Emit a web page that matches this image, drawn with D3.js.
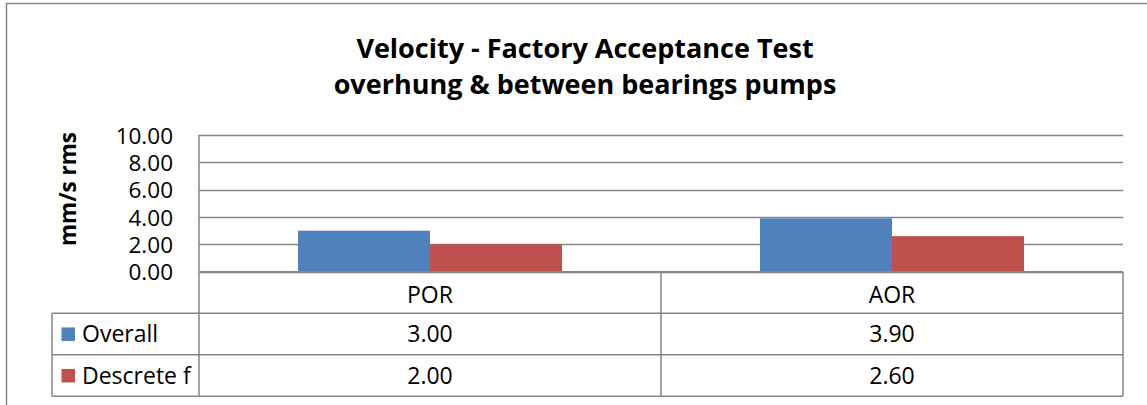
<!DOCTYPE html>
<html>
<head>
<meta charset="utf-8">
<script src="https://cdn.jsdelivr.net/npm/d3@7"></script>
<style>
    body { margin: 0; background: #fff; }
    svg { display: block; font-family: 'Open Sans', sans-serif; }
</style>
</head>
<body>
<div id="chart-container"></div>
<script>
// Chart data
const categories = ['POR', 'AOR'];
const seriesNames = ['Overall', 'Descrete f'];
const overallValues = [3.00, 3.90];
const descreteValues = [2.00, 2.60];
const yTicks = [0, 2, 4, 6, 8, 10];
const titleLines = ['Velocity - Factory Acceptance Test', 'overhung & between bearings pumps'];
const yLabel = 'mm/s rms';

const seriesValues = [overallValues, descreteValues];
const colors = ['#4f81bd', '#c0504d'];
const GRID = '#868686';

const WIDTH = 1147, HEIGHT = 405;
const plot = { left: 199, right: 1123, top: 135, bottom: 271.7 };
const table = { left: 52, rowH: 41.5 };

const svg = d3.select('#chart-container').append('svg')
    .attr('width', WIDTH)
    .attr('height', HEIGHT);

// outer chart border (runs off the right and bottom of the picture)
svg.append('rect')
    .attr('x', 6.5).attr('y', 3.5)
    .attr('width', 1170).attr('height', 430)
    .attr('fill', 'none')
    .attr('stroke', GRID)
    .attr('stroke-width', 1.5);

// Title
svg.append('text')
    .attr('font-weight', 'bold')
    .attr('font-size', 27)
    .attr('text-anchor', 'middle')
    .selectAll('tspan')
    .data(titleLines)
    .enter()
    .append('tspan')
        .attr('x', 585)
        .attr('y', (d, i) => 58 + i * 35.5)
        .text(d => d);

// Scales
const y = d3.scaleLinear()
    .domain([0, 10])
    .range([plot.bottom, plot.top]);

const x0 = d3.scaleBand()
    .domain(categories)
    .range([plot.left, plot.right]);

// gap width 150% -> outer padding of 0.75 step on each side
const x1 = d3.scaleBand()
    .domain(seriesNames)
    .range([0, x0.bandwidth()])
    .paddingInner(0)
    .paddingOuter(0.75);

// Gridlines
svg.append('g')
    .selectAll('line')
    .data(yTicks)
    .enter()
    .append('line')
        .attr('x1', plot.left)
        .attr('x2', plot.right)
        .attr('y1', d => Math.round(y(d)) + 0.5)
        .attr('y2', d => Math.round(y(d)) + 0.5)
        .attr('stroke', GRID)
        .attr('stroke-width', 1.3);

// Y axis labels
const yAxis = d3.axisLeft(y)
    .tickValues(yTicks)
    .tickFormat(d3.format('.2f'))
    .tickSize(0)
    .tickPadding(26);
const yAxisG = svg.append('g')
    .attr('transform', `translate(${plot.left},0)`)
    .call(yAxis);
yAxisG.select('.domain').remove();
yAxisG.selectAll('text')
    .attr('font-family', "'Open Sans', sans-serif")
    .attr('font-size', 22.5)
    .attr('dy', '0.36em')
    .attr('fill', '#000');

svg.append('text')
    .attr('transform', `translate(76, 189) rotate(-90)`)
    .attr('text-anchor', 'middle')
    .attr('font-weight', 'bold')
    .attr('font-size', 22.5)
    .text(yLabel);

// Bars
const groups = svg.append('g')
    .selectAll('g')
    .data(seriesNames)
    .enter()
    .append('g')
        .attr('fill', (d, i) => colors[i]);

groups.selectAll('rect')
    .data((name, si) => categories.map((c, ci) => ({ cat: c, name, value: seriesValues[si][ci] })))
    .enter()
    .append('rect')
        .attr('x', d => x0(d.cat) + x1(d.name))
        .attr('width', x1.bandwidth())
        .attr('y', d => y(d.value))
        .attr('height', d => y(0) - y(d.value));

// Data table below the plot
const rowTop = i => plot.bottom + i * table.rowH;
const tableBottom = rowTop(3);

const tableG = svg.append('g')
    .attr('stroke', GRID)
    .attr('stroke-width', 1.5)
    .attr('fill', 'none');

// horizontal lines
tableG.selectAll('line.h')
    .data([0, 1, 2, 3])
    .enter()
    .append('line')
        .attr('class', 'h')
        .attr('x1', i => i === 0 ? plot.left : table.left)
        .attr('x2', plot.right)
        .attr('y1', i => rowTop(i))
        .attr('y2', i => rowTop(i));

// vertical lines
const vLines = [
    { x: table.left, y1: rowTop(1) },
    { x: plot.left, y1: plot.top },
    { x: x0('AOR'), y1: rowTop(0) },
    { x: plot.right, y1: rowTop(0) }
];
tableG.selectAll('line.v')
    .data(vLines)
    .enter()
    .append('line')
        .attr('class', 'v')
        .attr('x1', d => d.x)
        .attr('x2', d => d.x)
        .attr('y1', d => d.y1)
        .attr('y2', tableBottom);

const TABLE_FONT = 23;

// category names
svg.append('g')
    .selectAll('text')
    .data(categories)
    .enter()
    .append('text')
        .attr('x', d => x0(d) + x0.bandwidth() / 2)
        .attr('y', rowTop(0) + table.rowH / 2 + 2)
        .attr('dy', '0.36em')
        .attr('text-anchor', 'middle')
        .attr('font-size', TABLE_FONT)
        .text(d => d);

// legend keys + values
seriesNames.forEach((name, si) => {
    const mid = rowTop(si + 1) + table.rowH / 2;
    svg.append('rect')
        .attr('x', 61.5)
        .attr('y', mid - 6.5)
        .attr('width', 13.5)
        .attr('height', 13.5)
        .attr('fill', colors[si]);
    svg.append('text')
        .attr('x', 82)
        .attr('y', mid)
        .attr('dy', '0.36em')
        .attr('font-size', TABLE_FONT)
        .text(name);
    svg.append('g')
        .selectAll('text')
        .data(categories)
        .enter()
        .append('text')
            .attr('x', d => x0(d) + x0.bandwidth() / 2)
            .attr('y', mid)
            .attr('dy', '0.36em')
            .attr('text-anchor', 'middle')
            .attr('font-size', TABLE_FONT)
            .text((d, ci) => seriesValues[si][ci].toFixed(2));
});
</script>
</body>
</html>
